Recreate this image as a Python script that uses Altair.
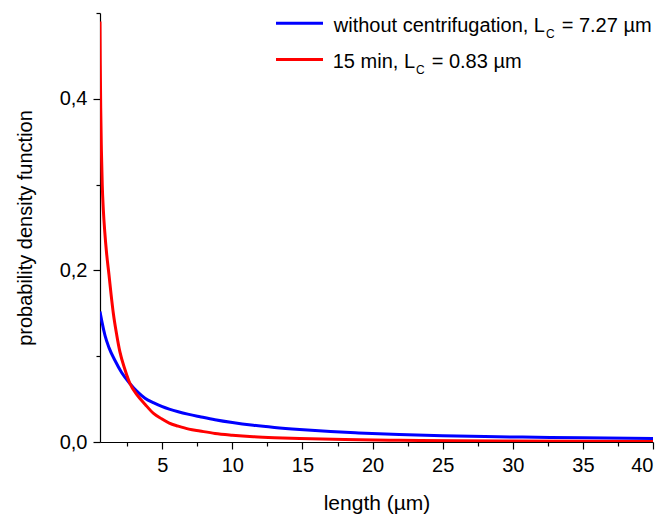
import altair as alt
import pandas as pd

# ---- data ----
blue_x = [0.56, 0.7, 0.92, 1.2, 1.63, 2.1, 2.7, 3.2, 3.77, 4.4, 4.96, 5.5, 6.14, 6.9, 7.69,
          8.76, 10, 11.5, 13, 14.8, 17, 19, 21.9, 25, 28, 30.7, 35, 40]
blue_y = [0.152, 0.140, 0.124, 0.110, 0.095, 0.081, 0.068, 0.059, 0.051, 0.0455, 0.0415, 0.0383,
          0.0352, 0.0322, 0.0295, 0.026, 0.0227, 0.0195, 0.0170, 0.0146, 0.0122, 0.0106, 0.0088,
          0.0074, 0.0064, 0.0057, 0.0049, 0.0041]

red_x = [0.56, 0.58, 0.61, 0.66, 0.72, 0.80, 0.90, 1.03, 1.20, 1.35, 1.51, 1.75, 1.98, 2.35,
         2.70, 3.2, 3.77, 4.4, 4.96, 5.5, 6.14, 6.9, 7.69, 8.76, 10, 11.5, 13, 14.8, 18, 21.9,
         26, 30, 35, 40]
red_y = [0.49, 0.44, 0.39, 0.34, 0.30, 0.27, 0.245, 0.22, 0.195, 0.172, 0.150, 0.125, 0.105,
         0.084, 0.068, 0.055, 0.044, 0.033, 0.027, 0.022, 0.0185, 0.015, 0.0128, 0.010, 0.008,
         0.0062, 0.005, 0.004, 0.0028, 0.002, 0.0014, 0.0011, 0.0008, 0.0006]

series_names = ["without", "15min"]
series_colors = ["#0000ff", "#ff0000"]

x_major = [5, 10, 15, 20, 25, 30, 35, 40]
x_minor = [2.5, 7.5, 12.5, 17.5, 22.5, 27.5, 32.5, 37.5]
y_major = [0.0, 0.2, 0.4]
y_minor = [0.1, 0.3, 0.5]

legend_pre = ["without centrifugation, L", "15 min, L"]
legend_sub = ["C", "C"]
legend_post = ["= 7.27 \u00b5m", "= 0.83 \u00b5m"]

# ---- build tables ----
df = pd.concat([
    pd.DataFrame({"x": blue_x, "y": blue_y, "series": series_names[0]}),
    pd.DataFrame({"x": red_x, "y": red_y, "series": series_names[1]}),
])
leg = pd.DataFrame({"row": [0, 1], "pre": legend_pre, "sub": legend_sub,
                    "post": legend_post, "series": series_names})

FONT = "Liberation Sans"
xscale = alt.Scale(domain=[0.56, 40], nice=False, zero=False)
yscale = alt.Scale(domain=[0, 0.5], nice=False, zero=False)
cscale = alt.Scale(domain=series_names, range=series_colors)

lines = alt.Chart(df).mark_line(strokeWidth=3, interpolate="monotone", clip=True).encode(
    x=alt.X("x:Q", scale=xscale, axis=alt.Axis(
        values=x_major, format="d", title="length (\u00b5m)", orient="bottom",
        grid=False, domainColor="black", domainWidth=1.2, tickColor="black", tickWidth=1.2,
        tickSize=7, labelPadding=6, labelFont=FONT, labelFontSize=20, labelColor="black",
        titleFont=FONT, titleFontSize=21, titleFontWeight="normal", titleColor="black",
        titleY=67, titleBaseline="alphabetic")),
    y=alt.Y("y:Q", scale=yscale, axis=alt.Axis(
        values=y_major, labelExpr="replace(format(datum.value, '.1f'), '.', ',')",
        title="probability density function", orient="left",
        grid=False, domainColor="black", domainWidth=1.2, tickColor="black", tickWidth=1.2,
        tickSize=7, labelPadding=6, labelFont=FONT, labelFontSize=20, labelColor="black",
        titleFont=FONT, titleFontSize=20, titleFontWeight="normal", titleColor="black",
        titleX=-75, titleY=214.5, titleBaseline="middle", titleAngle=-90)),
    color=alt.Color("series:N", scale=cscale, legend=None),
    order="x:Q",
)

minor = alt.Chart(df).mark_point(opacity=0).encode(
    x=alt.X("x:Q", scale=xscale, axis=alt.Axis(
        values=x_minor, labels=False, title=None, orient="bottom", grid=False, domain=False,
        tickColor="black", tickWidth=1.2, tickSize=4)),
    y=alt.Y("y:Q", scale=yscale, axis=alt.Axis(
        values=y_minor, labels=False, title=None, orient="left", grid=False, domain=False,
        tickColor="black", tickWidth=1.2, tickSize=4)),
)

layers = [lines, minor]
line_y = [10.3, 46.5]
text_y = [18.7, 54.9]
sub_y = [25, 61.2]
pre_right = [445, 315]
sub_left = [446, 316]
post_left = [461.7, 331.7]

for i in range(2):
    base = alt.Chart(leg).transform_filter(alt.datum.row == i)
    layers.append(base.mark_rule(strokeWidth=3).encode(
        x=alt.value(176), x2=alt.value(223), y=alt.value(line_y[i]),
        color=alt.Color("series:N", scale=cscale, legend=None)))
    layers.append(base.mark_text(align="right", baseline="alphabetic", font=FONT,
                                 fontSize=20, color="black").encode(
        text="pre:N", x=alt.value(pre_right[i]), y=alt.value(text_y[i])))
    layers.append(base.mark_text(align="left", baseline="alphabetic", font=FONT,
                                 fontSize=12, color="black").encode(
        text="sub:N", x=alt.value(sub_left[i]), y=alt.value(sub_y[i])))
    layers.append(base.mark_text(align="left", baseline="alphabetic", font=FONT,
                                 fontSize=20, color="black").encode(
        text="post:N", x=alt.value(post_left[i]), y=alt.value(text_y[i])))

chart = alt.layer(*layers).resolve_axis(x="independent", y="independent").properties(
    width=553, height=429,
    padding={"left": 100, "top": 13, "right": 14, "bottom": 76},
    autosize=alt.AutoSizeParams(type="none"),
    background="white",
).configure_view(stroke=None)

chart.save("out.html", embed_options={"renderer": "svg", "actions": False})
